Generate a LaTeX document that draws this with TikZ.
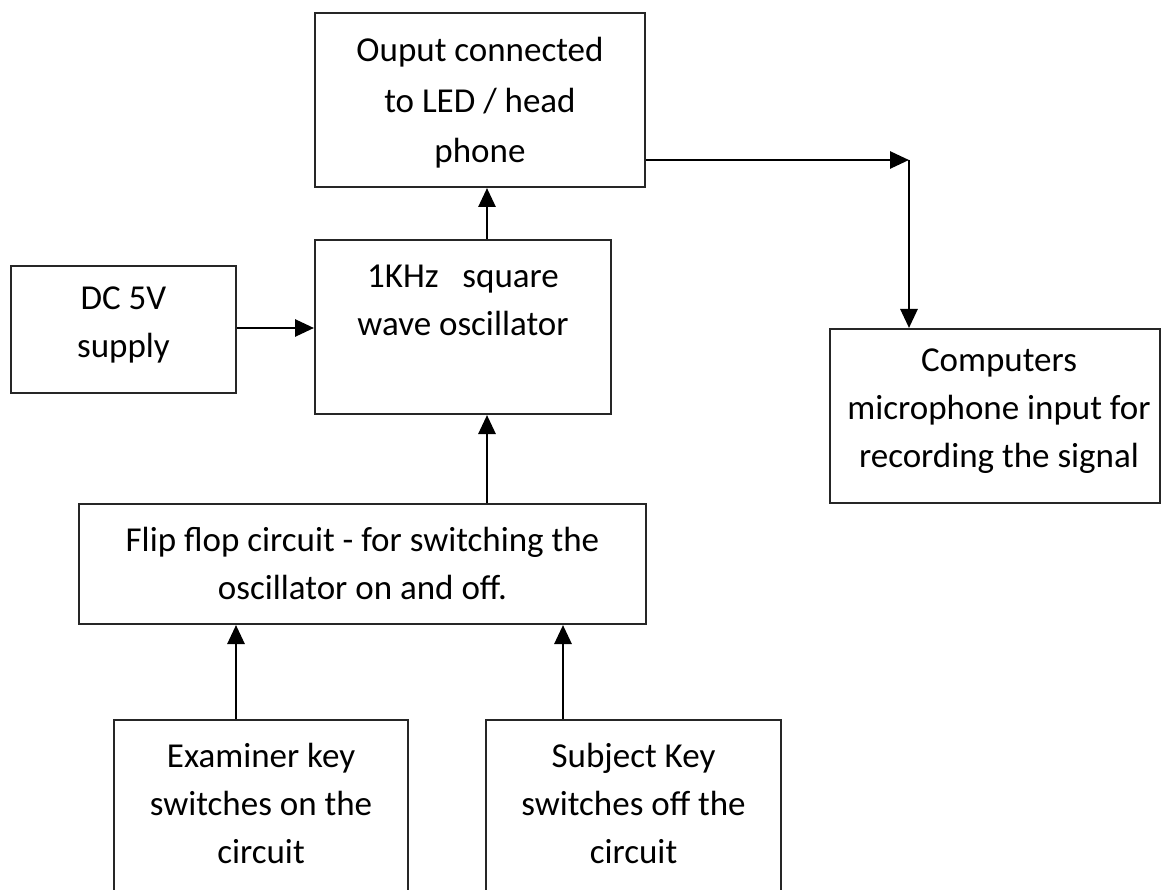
\documentclass[tikz,border=0pt]{standalone}
\usepackage{fontspec}
\setmainfont{Carlito}
\usetikzlibrary{arrows.meta}
\begin{document}
\begin{tikzpicture}[x=1pt,y=-1pt,
  box/.style={draw=black!85, line width=2pt, inner sep=0pt},
  txt/.style={font=\fontsize{35}{48}\selectfont, align=center, inner sep=0pt},
  conn/.style={line width=2.8pt, -{Triangle[length=19pt,width=17pt]}}]
\useasboundingbox (0,0) rectangle (1164,890);
\clip (0,0) rectangle (1164,890);
\fill[white] (0,0) rectangle (1164,890);
% boxes
\node[box, minimum width=330pt, minimum height=174pt] (out) at (480,100) {};
\node[box, minimum width=296pt, minimum height=174pt] (osc) at (463,327) {};
\node[box, minimum width=225pt, minimum height=127pt] (dc) at (123.5,329.5) {};
\node[box, minimum width=567pt, minimum height=120pt] (ff) at (362.5,564) {};
\node[box, minimum width=330pt, minimum height=174pt] (comp) at (995,416) {};
\node[box, minimum width=294pt, minimum height=200pt] (exam) at (261,820) {};
\node[box, minimum width=295pt, minimum height=200pt] (subj) at (633.5,820) {};
% texts
\node[txt, font=\fontsize{35}{50.5}\selectfont] (outt) at (480,103) {Ouput connected\\to LED / head\\phone};
\node[txt] (osct) at (463,300) {1KHz\ \ \ square\\wave oscillator};
\node[txt] (dct) at (123.5,325) {DC 5V\\supply};
\node[txt] (fft) at (362.5,563) {Flip flop circuit - for switching the\\oscillator on and off.};
\node[txt] (compt) at (999,411) {Computers\\microphone input for\\recording the signal};
\node[txt] (examt) at (261,803) {Examiner key\\switches on the\\circuit};
\node[txt] (subjt) at (633.5,803) {Subject Key\\switches off the\\circuit};
% helper coordinates
\coordinate (cA) at (487,0);
\coordinate (cB) at (0,328);
\coordinate (cC) at (236,0);
\coordinate (cD) at (563,0);
\coordinate (corner) at (909,160);
% connectors
\draw[conn] (osc.north -| cA) -- (out.south -| cA);
\draw[conn] (dc.east |- cB) -- (osc.west |- cB);
\draw[conn] (ff.north -| cA) -- (osc.south -| cA);
\draw[conn] (exam.north -| cC) -- (ff.south -| cC);
\draw[conn] (subj.north -| cD) -- (ff.south -| cD);
\draw[conn] (out.east |- corner) -- (corner);
\draw[conn] (corner) -- (comp.north -| corner);
\end{tikzpicture}
\end{document}
